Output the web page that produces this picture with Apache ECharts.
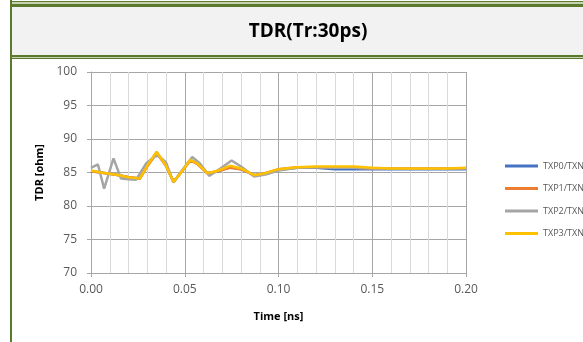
<!DOCTYPE html>
<html>
<head>
<meta charset="utf-8">
<script src="https://cdn.jsdelivr.net/npm/echarts@6/dist/echarts.min.js"></script>
<style>
html,body{margin:0;padding:0;background:#fff;}
#c{width:583px;height:342px;}
</style>
</head>
<body>
<div id="c"></div>
<script>
var chartTitle = 'TDR(Tr:30ps)';
var seriesNames = ['TXP0/TXN0', 'TXP1/TXN1', 'TXP2/TXN2', 'TXP3/TXN3'];
var seriesColors = ['#4472C4', '#ED7D31', '#A5A5A5', '#FFC000'];
var xTicks = [0, 0.05, 0.10, 0.15, 0.20];
var yTicks = [70, 75, 80, 85, 90, 95, 100];

var timeMain = [0, 0.005, 0.010, 0.015, 0.020, 0.026, 0.030, 0.035, 0.040, 0.044, 0.048, 0.053, 0.057, 0.062, 0.068, 0.074, 0.080, 0.087, 0.093, 0.100, 0.110, 0.120, 0.130, 0.140, 0.150, 0.160, 0.170, 0.180, 0.190, 0.200];
var txp0 = [85.2, 85.0, 84.8, 84.6, 84.3, 84.1, 86.0, 88.0, 86.0, 83.6, 85.0, 86.9, 86.3, 84.9, 85.2, 85.8, 85.5, 84.6, 84.9, 85.4, 85.7, 85.7, 85.5, 85.5, 85.5, 85.5, 85.5, 85.5, 85.5, 85.5];
var txp1 = [85.2, 85.0, 84.8, 84.6, 84.3, 84.1, 85.9, 87.9, 86.0, 83.6, 85.0, 86.8, 86.2, 84.9, 85.2, 85.7, 85.5, 84.6, 84.9, 85.5, 85.8, 85.8, 85.8, 85.7, 85.6, 85.6, 85.6, 85.6, 85.6, 85.6];
var txp3 = [85.3, 85.0, 84.8, 84.6, 84.3, 84.1, 86.0, 88.1, 86.0, 83.6, 85.0, 86.9, 86.3, 84.9, 85.3, 86.0, 85.6, 84.6, 84.9, 85.5, 85.8, 85.9, 85.9, 85.9, 85.7, 85.6, 85.6, 85.6, 85.6, 85.7];

var timeTxp2 = [0, 0.0037, 0.007, 0.012, 0.016, 0.020, 0.024, 0.0295, 0.034, 0.036, 0.040, 0.044, 0.049, 0.054, 0.058, 0.063, 0.069, 0.075, 0.080, 0.087, 0.093, 0.100, 0.110, 0.120, 0.130, 0.140, 0.150, 0.160, 0.170, 0.180, 0.190, 0.200];
var txp2 = [85.7, 86.2, 82.6, 87.1, 84.1, 84.0, 83.9, 86.4, 87.4, 87.5, 86.5, 83.5, 85.5, 87.3, 86.4, 84.5, 85.6, 86.8, 85.9, 84.4, 84.7, 85.3, 85.7, 85.8, 85.7, 85.7, 85.6, 85.6, 85.6, 85.6, 85.6, 85.6];

function zip(t, v) { return t.map(function (x, i) { return [x, v[i]]; }); }

var green = '#5b7a2e';
var chart = echarts.init(document.getElementById('c'), null, {renderer: 'canvas'});
var seriesData = [zip(timeMain, txp0), zip(timeMain, txp1), zip(timeTxp2, txp2), zip(timeMain, txp3)];

chart.setOption({
  backgroundColor: '#ffffff',
  animation: false,
  textStyle: {fontFamily: 'Open Sans'},
  graphic: [
    {type: 'rect', shape: {x: 12, y: 7, width: 571, height: 48}, style: {fill: '#f2f2f2'}, silent: true},
    {type: 'rect', shape: {x: 10, y: 1, width: 573, height: 1}, style: {fill: green}, silent: true},
    {type: 'rect', shape: {x: 10, y: 2, width: 573, height: 2}, style: {fill: '#c6d2b2'}, silent: true},
    {type: 'rect', shape: {x: 10, y: 4, width: 573, height: 3}, style: {fill: green}, silent: true},
    {type: 'rect', shape: {x: 10, y: 55, width: 573, height: 2}, style: {fill: green}, silent: true},
    {type: 'rect', shape: {x: 10, y: 57, width: 573, height: 1}, style: {fill: '#c6d2b2'}, silent: true},
    {type: 'rect', shape: {x: 10, y: 58, width: 573, height: 1}, style: {fill: green}, silent: true},
    {type: 'rect', shape: {x: 10, y: 0, width: 2, height: 342}, style: {fill: green}, silent: true},
    {type: 'text', x: 308, y: 32, style: {text: chartTitle, font: 'bold 19px "Open Sans"', fill: '#000', align: 'center', verticalAlign: 'middle'}, silent: true}
  ],
  legend: {
    orient: 'vertical',
    left: 500,
    top: 155,
    itemWidth: 33,
    itemHeight: 3,
    itemGap: 10.5,
    icon: 'rect',
    data: seriesNames,
    textStyle: {fontSize: 9, color: '#595959', lineHeight: 12, fontFamily: 'Open Sans'}
  },
  grid: {left: 91, right: 117, top: 72, bottom: 69},
  xAxis: {
    type: 'value',
    min: xTicks[0],
    max: xTicks[xTicks.length - 1],
    interval: 0.05,
    name: 'Time [ns]',
    nameLocation: 'middle',
    nameGap: 38,
    nameTextStyle: {fontWeight: 'bold', fontSize: 11, color: '#000', fontFamily: 'Open Sans'},
    axisLine: {show: true, onZero: false, lineStyle: {color: '#a6a6a6', width: 1}},
    axisTick: {show: true, length: 4, lineStyle: {color: '#a6a6a6'}},
    axisLabel: {color: '#595959', fontSize: 12, margin: 11, formatter: function (v) { return v.toFixed(2); }},
    splitLine: {show: true, lineStyle: {color: '#a6a6a6', width: 1}},
    minorTick: {show: false, splitNumber: 5},
    minorSplitLine: {show: true, lineStyle: {color: '#d9d9d9', width: 1}}
  },
  yAxis: {
    type: 'value',
    min: yTicks[0],
    max: yTicks[yTicks.length - 1],
    interval: 5,
    name: 'TDR [ohm]',
    nameLocation: 'middle',
    nameGap: 46,
    nameTextStyle: {fontWeight: 'bold', fontSize: 11, color: '#000', fontFamily: 'Open Sans'},
    axisLine: {show: true, lineStyle: {color: '#a6a6a6', width: 1}},
    axisTick: {show: true, length: 4, lineStyle: {color: '#a6a6a6'}},
    axisLabel: {color: '#595959', fontSize: 12, margin: 14},
    splitLine: {show: true, lineStyle: {color: '#a6a6a6', width: 1}}
  },
  series: seriesNames.map(function (n, i) {
    return {
      name: n,
      type: 'line',
      data: seriesData[i],
      symbol: 'none',
      showSymbol: false,
      smooth: false,
      color: seriesColors[i],
      lineStyle: {width: 2.5, color: seriesColors[i]},
      z: 2 + i
    };
  })
});
</script>
</body>
</html>
